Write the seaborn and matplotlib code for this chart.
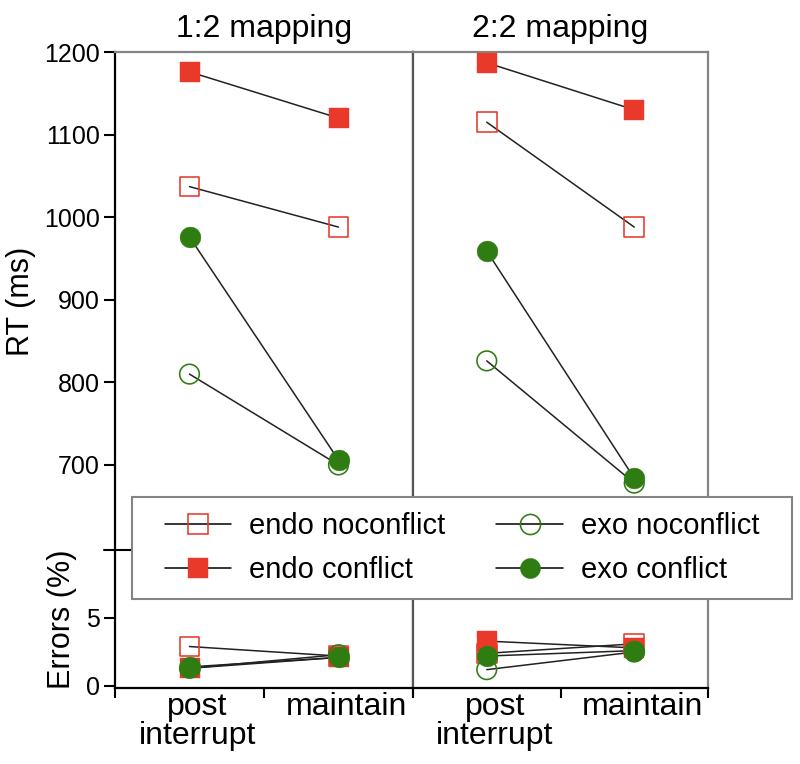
import numpy as np
import pandas as pd
import matplotlib
matplotlib.use("Agg")
import matplotlib.pyplot as plt
import matplotlib.transforms as mtransforms
from matplotlib.lines import Line2D
from matplotlib.patches import Rectangle
import seaborn as sns

# ---------------- data ----------------
phases = ["post\ninterrupt", "maintain"]
mappings = ["1:2 mapping", "2:2 mapping"]
series = ["endo noconflict", "endo conflict", "exo noconflict", "exo conflict"]

# RT (ms): [post interrupt, maintain] for each series (order as `series`)
rt_12 = [[1037, 988], [1176, 1120], [810, 700], [976, 706]]
rt_22 = [[1115, 988], [1187, 1130], [826, 678], [959, 684]]
# Errors (%)
err_12 = [[2.9, 2.2], [1.3, 2.1], [1.3, 2.3], [1.4, 2.1]]
err_22 = [[2.4, 3.1], [3.3, 2.8], [1.2, 2.5], [2.2, 2.6]]

rt_ticks = [700, 800, 900, 1000, 1100, 1200]
err_ticks = [0, 5]

RED = "#E8392A"
GREEN = "#2F7D12"
style = {
    "endo noconflict": dict(marker="s", color=RED, filled=False),
    "endo conflict": dict(marker="s", color=RED, filled=True),
    "exo noconflict": dict(marker="o", color=GREEN, filled=False),
    "exo conflict": dict(marker="o", color=GREEN, filled=True),
}

rows = []
for m, rts, ers in zip(mappings, [rt_12, rt_22], [err_12, err_22]):
    for s, rv, ev in zip(series, rts, ers):
        for i, p in enumerate(phases):
            rows.append(dict(mapping=m, series=s, phase=p, x=i, rt=rv[i], err=ev[i]))
df = pd.DataFrame(rows)

# ---------------- style ----------------
sns.set_style("ticks")
plt.rcParams["font.family"] = ["Liberation Sans", "DejaVu Sans"]
plt.rcParams["text.color"] = "black"
plt.rcParams["axes.labelcolor"] = "black"
plt.rcParams["xtick.color"] = "black"
plt.rcParams["ytick.color"] = "black"
plt.rcParams["xtick.labelcolor"] = "black"
plt.rcParams["ytick.labelcolor"] = "black"

W, H = 800, 764
fig = plt.figure(figsize=(W / 100, H / 100), dpi=100)


def box(x0, y0, x1, y1):
    return [x0 / W, 1 - y1 / H, (x1 - x0) / W, (y1 - y0) / H]


RT_TOP, BREAK, BOT = 52, 550, 688
panels = [(115, 413), (413, 708)]

GRAY = "#858585"
DARK = "#555555"


def draw(ax, sub, ycol):
    sns.lineplot(data=sub, x="x", y=ycol, units="series", estimator=None,
                 color="#222222", linewidth=1.1, ax=ax, legend=False, sort=False)
    for s in series:
        st = style[s]
        d = sub[sub["series"] == s]
        if st["filled"]:
            sns.scatterplot(data=d, x="x", y=ycol, marker=st["marker"], s=225,
                            color=st["color"], edgecolor=st["color"], linewidth=0.3,
                            ax=ax, legend=False, zorder=3)
        else:
            sns.scatterplot(data=d, x="x", y=ycol, marker=st["marker"], s=200,
                            facecolor="none", edgecolor=st["color"], linewidth=1.15,
                            ax=ax, legend=False, zorder=3)
    ax.set_xlim(-0.5, 1.5)
    ax.set_xlabel("")
    ax.set_ylabel("")


axes_rt, axes_er = [], []
for k, (m, (x0, x1)) in enumerate(zip(mappings, panels)):
    rt = fig.add_axes(box(x0, RT_TOP, x1, BREAK))
    er = fig.add_axes(box(x0, BREAK, x1, BOT))
    sub = df[df["mapping"] == m]
    draw(rt, sub, "rt")
    draw(er, sub, "err")

    rt.set_ylim(597, 1200)
    er.set_ylim(-0.15, 10)

    rt.set_title(m, fontsize=23, pad=11, color="black")

    # spines
    for ax in (rt, er):
        for sp in ax.spines.values():
            sp.set_linewidth(1.6)
        ax.spines["right"].set_color(GRAY)
        ax.spines["left"].set_color("black" if k == 0 else DARK)
    rt.spines["bottom"].set_visible(False)
    rt.spines["top"].set_color(GRAY)
    er.spines["top"].set_visible(False)
    er.spines["bottom"].set_color("black")
    if k == 0:
        rt.spines["right"].set_color(DARK)
        er.spines["right"].set_color(DARK)

    rt.set_xticks([])
    er.set_xticks([-0.5, 0.5, 1.5])
    er.set_xticklabels([])
    er.set_xticks([0, 1], minor=True)
    er.set_xticklabels(phases, minor=True)
    er.tick_params(axis="x", which="major", direction="out", length=7,
                   width=1.5, color="black")
    er.tick_params(axis="x", which="minor", length=0, labelsize=23, pad=3,
                   labelcolor="black")
    offset = mtransforms.ScaledTranslation(0.08, 0, fig.dpi_scale_trans)
    for lab in er.get_xticklabels(minor=True):
        lab.set_linespacing(0.95)
        lab.set_transform(lab.get_transform() + offset)

    if k == 0:
        rt.set_yticks(rt_ticks)
        er.set_yticks(err_ticks)
        for ax in (rt, er):
            ax.tick_params(axis="y", direction="out", length=8, width=1.5,
                           labelsize=18, pad=3, color="black", labelcolor="black")
        rt.set_ylabel("RT (ms)", fontsize=22, labelpad=6, color="black")
        er.set_ylabel("Errors (%)", fontsize=22, labelpad=6, color="black")
        # axis break mark between the RT and the error scales
        er.plot([-0.037, 0.057], [1, 1], transform=er.transAxes, clip_on=False,
                color="black", lw=1.5, zorder=4)
    else:
        rt.set_yticks([])
        er.set_yticks([])
    axes_rt.append(rt)
    axes_er.append(er)

fig.align_ylabels([axes_rt[0], axes_er[0]])

# ---------------- legend ----------------
frame = Rectangle((132 / W, 1 - 599 / H), 660 / W, 102 / H, transform=fig.transFigure,
                  facecolor="white", edgecolor=GRAY, linewidth=1.5, zorder=5)
fig.add_artist(frame)

handles = []
for s in series:
    st = style[s]
    handles.append(Line2D([0], [0], color="black", lw=1.1, marker=st["marker"],
                          markersize=14.5,
                          markerfacecolor=st["color"] if st["filled"] else "none",
                          markeredgecolor=st["color"],
                          markeredgewidth=0.3 if st["filled"] else 1.15))
leg = fig.legend(handles, series, ncol=2, loc="center",
                 bbox_to_anchor=(462 / W, 1 - 548 / H), frameon=False,
                 fontsize=21, handlelength=2.27, handletextpad=0.62,
                 columnspacing=1.75, labelspacing=0.55, borderpad=0,
                 borderaxespad=0)
for t in leg.get_texts():
    t.set_color("black")
leg.set_zorder(6)

fig.savefig("out.png", dpi=100)
